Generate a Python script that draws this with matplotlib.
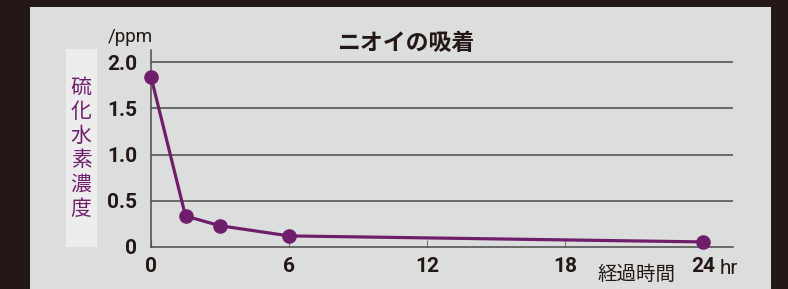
import matplotlib
matplotlib.use("Agg")
import matplotlib.pyplot as plt
from matplotlib.patches import Rectangle

plt.rcParams['font.family'] = ['Noto Sans CJK JP', 'DejaVu Sans']

hours = [0, 1.5, 3, 6, 24]
h2s_ppm = [1.84, 0.335, 0.23, 0.12, 0.055]
x_ticks = [0, 6, 12, 18, 24]
y_ticks = [0, 0.5, 1.0, 1.5, 2.0]
y_tick_labels = ["0", "0.5", "1.0", "1.5", "2.0"]

PURPLE = "#6f1e6c"
DARK = "#231815"
PANEL = "#dcdedd"
NUM_FONT = ["Roboto", "DejaVu Sans"]
W, H = 788, 289


def main():
    fig = plt.figure(figsize=(W / 100, H / 100), dpi=100)
    fig.patch.set_facecolor(DARK)
    fig.patches.append(Rectangle((30 / W, 0), (771 - 30) / W, 1 - 7 / H,
                                 transform=fig.transFigure, facecolor=PANEL,
                                 edgecolor="none", zorder=0))
    # light box behind the y label
    fig.patches.append(Rectangle((66 / W, 1 - 247 / H), 31 / W, 198 / H,
                                 transform=fig.transFigure, facecolor="#ededed",
                                 edgecolor="none", zorder=0))

    ax = fig.add_axes([151 / W, 1 - 247 / H, (733 - 151) / W, (247 - 50) / H])
    ax.set_zorder(2)
    ax.set_facecolor("none")
    ax.set_xlim(0, 25.3)
    ax.set_ylim(0, 2.13)

    for v in y_ticks[1:]:
        ax.axhline(v, color="#4a4a4a", lw=1.1, zorder=1)

    ax.plot(hours, h2s_ppm, color=PURPLE, lw=2.3, marker="o", ms=9.5,
            zorder=3, clip_on=False)

    for s in ["top", "right"]:
        ax.spines[s].set_visible(False)
    ax.spines["left"].set_color("#4a4a4a")
    ax.spines["bottom"].set_color("#4a4a4a")
    ax.spines["left"].set_linewidth(1.1)
    ax.spines["bottom"].set_linewidth(1.1)

    ax.set_xticks(x_ticks)
    ax.set_xticklabels([str(t) for t in x_ticks])
    ax.set_yticks(y_ticks)
    ax.set_yticklabels(y_tick_labels)
    ax.tick_params(axis="x", direction="in", length=5, color="#777777",
                   labelsize=15, pad=7, labelcolor="#231815")
    ax.tick_params(axis="y", length=0, labelsize=15, pad=10,
                   labelcolor="#231815")
    for lab in ax.get_xticklabels() + ax.get_yticklabels():
        lab.set_fontfamily(NUM_FONT)
        lab.set_fontweight("bold")

    fig.text(406 / W, 1 - 44 / H, "ニオイの吸着", ha="center", va="center",
             fontsize=16.5, fontweight="bold", color="#231815")
    fig.text(130 / W, 1 - 37 / H, "/ppm", ha="center", va="center",
             fontsize=13.5, color="#231815", family=NUM_FONT)
    fig.text(81 / W, 1 - 148 / H, "\n".join("硫化水素濃度"), ha="center",
             va="center", fontsize=15, color=PURPLE, linespacing=1.13)
    fig.text(637 / W, 1 - 274 / H, "経過時間", ha="center", va="center",
             fontsize=14, color="#231815")
    fig.text(729 / W, 1 - 268 / H, "hr", ha="center", va="center",
             fontsize=15, color="#231815", family=NUM_FONT)

    fig.savefig("out.png", dpi=100, facecolor=fig.get_facecolor())


if __name__ == '__main__':
    main()
